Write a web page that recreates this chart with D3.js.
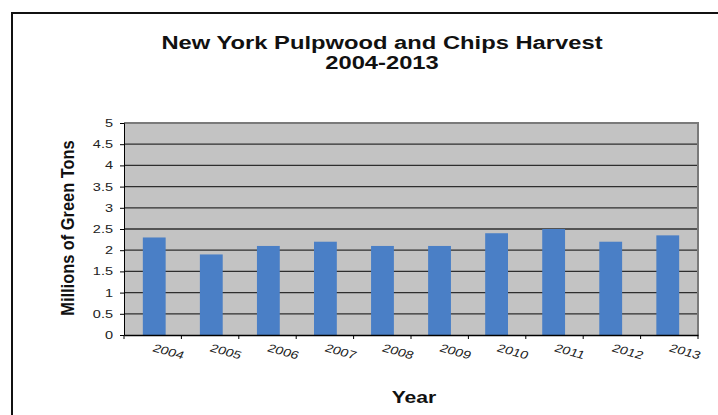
<!DOCTYPE html>
<html><head><meta charset="utf-8">
<script src="https://cdn.jsdelivr.net/npm/d3@7"></script>
<style>body{margin:0;background:#fff}svg{display:block}</style>
</head><body><svg id="c" width="718" height="415"></svg>
<script>
const years = ["2004","2005","2006","2007","2008","2009","2010","2011","2012","2013"];
const harvest = [2.3, 1.9, 2.1, 2.2, 2.1, 2.1, 2.4, 2.5, 2.2, 2.35];
const yTicks = [0, 0.5, 1, 1.5, 2, 2.5, 3, 3.5, 4, 4.5, 5];
const titleLines = ["New York Pulpwood and Chips Harvest", "2004-2013"];

const SX = 1.32; // the source picture is stretched horizontally
const FONT = "Liberation Sans, Arial, sans-serif";
const svg = d3.select("#c");
const m = {left:124, right:698, top:123, bottom:335};

svg.append("rect").attr("x",12).attr("y",13).attr("width",720).attr("height",420)
  .attr("fill","#fff").attr("stroke","#111").attr("stroke-width",2);

const x = d3.scaleBand().domain(years).range([m.left, m.right]).paddingInner(0.6).paddingOuter(0.33);
const y = d3.scaleLinear().domain([0,5]).range([m.bottom, m.top]);

svg.append("rect").attr("x",m.left).attr("y",m.top).attr("width",m.right-m.left).attr("height",m.bottom-m.top)
  .attr("fill","#c3c3c3");

svg.append("g").selectAll("line").data(yTicks.filter(d=>d>0&&d<5)).join("line")
  .attr("x1",m.left).attr("x2",m.right).attr("y1",d=>y(d)).attr("y2",d=>y(d))
  .attr("stroke","#2e2e2e").attr("stroke-width",1.3);

svg.append("path").attr("d",`M${m.left},${m.top}H${m.right}V${m.bottom}`)
  .attr("fill","none").attr("stroke","#7a7a7a").attr("stroke-width",2);

svg.append("g").selectAll("rect").data(harvest).join("rect")
  .attr("x",(d,i)=>x(years[i])).attr("width",x.bandwidth())
  .attr("y",d=>y(d)).attr("height",d=>y(0)-y(d)).attr("fill","#4a7fc6");

// y axis
const yAxis = svg.append("g").attr("transform",`translate(${m.left},0)`)
  .call(d3.axisLeft(y).tickValues(yTicks).tickFormat(d3.format("")).tickSize(4).tickPadding(0));
yAxis.select(".domain").attr("stroke","#000");
yAxis.selectAll("line").attr("stroke","#000");
yAxis.selectAll("text").attr("x",null)
  .attr("transform",`translate(-11,0) scale(${SX},1)`)
  .attr("font-family",FONT).attr("font-size",11).attr("fill","#222");

// x axis
const xb = d3.scaleBand().domain(years).range([m.left, m.right]);
const xAxis = svg.append("g").attr("transform",`translate(0,${m.bottom})`)
  .call(d3.axisBottom(xb).tickSize(0).tickFormat(""));
xAxis.select(".domain").attr("stroke","#000").attr("stroke-width",1.5);
svg.append("g").selectAll("line").data(years.concat([""])).join("line")
  .attr("x1",(d,i)=>m.left+i*xb.step()).attr("x2",(d,i)=>m.left+i*xb.step())
  .attr("y1",m.bottom).attr("y2",m.bottom+4).attr("stroke","#000");
svg.append("g").selectAll("text").data(years).join("text")
  .attr("transform",d=>`translate(${xb(d)+xb.bandwidth()/2-1},${m.bottom+16}) scale(${SX},1) rotate(20)`)
  .attr("font-family",FONT).attr("font-size",11)
  .attr("fill","#222").text(d=>d);

svg.append("text").attr("transform",`translate(414,403) scale(${SX},1)`).attr("text-anchor","middle")
  .attr("font-family",FONT).attr("font-weight","bold").attr("font-size",16)
  .attr("fill","#111").text("Year");

svg.append("text").attr("transform",`translate(74,228) scale(1.15,1) rotate(-90)`).attr("text-anchor","middle")
  .attr("font-family",FONT).attr("font-weight","bold")
  .attr("font-size",16.4).attr("fill","#111").text("Millions of Green Tons");

svg.append("g").selectAll("text").data(titleLines).join("text")
  .attr("transform",(d,i)=>`translate(382,${49+i*20}) scale(${SX},1)`).attr("text-anchor","middle")
  .attr("font-family",FONT).attr("font-weight","bold").attr("font-size",18)
  .attr("fill","#111").text(d=>d);
</script></body></html>
